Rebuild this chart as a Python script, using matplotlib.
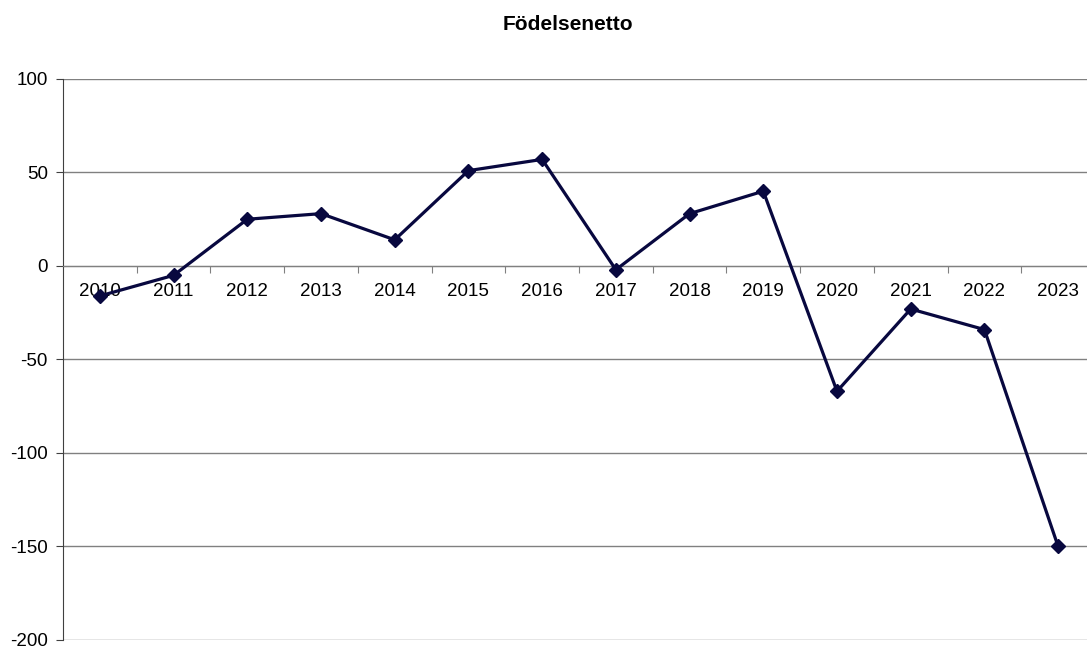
import numpy as np
import matplotlib.pyplot as plt

years = ['2010', '2011', '2012', '2013', '2014', '2015', '2016',
         '2017', '2018', '2019', '2020', '2021', '2022', '2023']
netto = [-16, -5, 25, 28, 14, 51, 57, -2, 28, 40, -67, -23, -34, -150]

plt.rcParams['font.family'] = ['Liberation Sans', 'DejaVu Sans']
plt.rcParams['axes.unicode_minus'] = False

fig = plt.figure(figsize=(10.87, 6.48), dpi=100)
ax = fig.add_axes([63 / 1087, 1 - 640 / 648, (1095 - 63) / 1087, 561 / 648])

x = np.arange(len(years))
ax.plot(x, netto, color='#08083f', lw=2.3, marker='D', markersize=7, zorder=3)

ax.set_xlim(-0.5, len(years) - 0.5)
ax.set_ylim(-200, 100)
ax.set_yticks(np.arange(-200, 101, 50))
ax.yaxis.grid(True, color='#808080', lw=1)
ax.set_axisbelow(True)

ax.spines['top'].set_visible(False)
ax.spines['right'].set_visible(False)
ax.spines['left'].set_color('#404040')
ax.spines['bottom'].set_position(('data', 0))
ax.spines['bottom'].set_color('#808080')

# boundaries between categories get tick marks, labels sit on the categories
ax.set_xticks(np.arange(0.5, len(years) - 0.5, 1))
ax.set_xticklabels([])
ax.tick_params(axis='x', which='major', length=5, color='#808080', direction='out')
ax.set_xticks(x, minor=True)
ax.set_xticklabels(years, minor=True)
ax.tick_params(axis='x', which='minor', length=0, pad=12, labelsize=13.5)
ax.tick_params(axis='y', length=5, color='#404040', labelsize=13.5, pad=6)

fig.text(568 / 1087, 1 - 25 / 648, 'Födelsenetto', fontsize=15, fontweight='bold',
         ha='center', va='center')

fig.savefig('out.png', dpi=100)
